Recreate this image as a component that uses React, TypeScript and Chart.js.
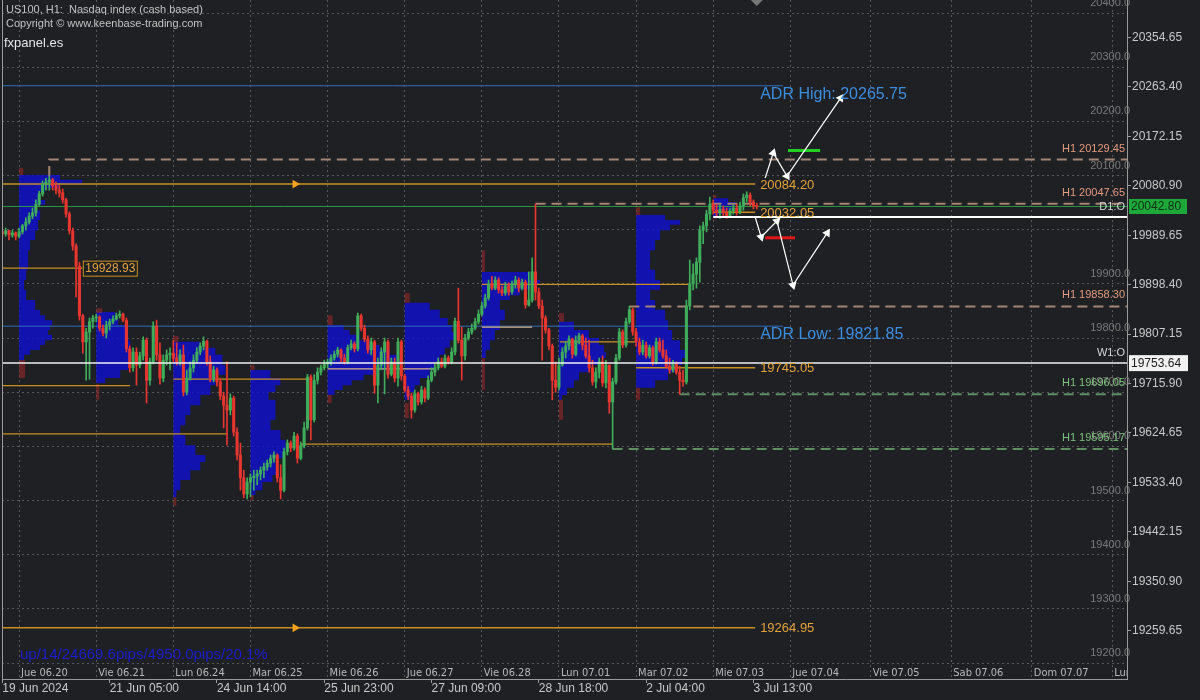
import React, { useEffect, useRef } from 'react';
import { Chart, registerables } from 'chart.js';

Chart.register(...registerables);

// ---------------- DATA ----------------
const FIRST_OPEN = 19996;
const BAR_CLOSE = [
  19992, 19998, 19990, 19994, 19988, 19996, 20007, 20014, 20025, 20031,
  20047, 20066, 20084, 20088, 20092, 20081, 20073, 20068, 20055, 20029,
  19998, 19970, 19933, 19841, 19793, 19811, 19830, 19837, 19839, 19818,
  19809, 19824, 19830, 19835, 19841, 19844, 19833, 19780, 19745, 19774,
  19750, 19767, 19796, 19722, 19756, 19822, 19769, 19726, 19759, 19769,
  19772, 19763, 19756, 19769, 19700, 19726, 19745, 19759, 19774, 19785,
  19794, 19756, 19726, 19741, 19719, 19693, 19676, 19667, 19689, 19626,
  19584, 19542, 19512, 19534, 19542, 19545, 19549, 19556, 19562, 19569,
  19578, 19584, 19542, 19519, 19590, 19606, 19597, 19619, 19578, 19601,
  19634, 19728, 19649, 19722, 19737, 19745, 19752, 19756, 19763, 19770,
  19778, 19763, 19756, 19782, 19789, 19780, 19841, 19818, 19798, 19778,
  19793, 19713, 19750, 19774, 19793, 19733, 19756, 19726, 19793, 19730,
  19704, 19693, 19667, 19697, 19682, 19704, 19689, 19722, 19737, 19745,
  19756, 19748, 19763, 19756, 19774, 19831, 19796, 19767, 19800, 19811,
  19818, 19830, 19844, 19859, 19874, 19900, 19892, 19907, 19889, 19883,
  19896, 19885, 19900, 19907, 19892, 19903, 19861, 19870, 19922, 19885,
  19859, 19837, 19815, 19785, 19722, 19709, 19750, 19774, 19785, 19798,
  19770, 19796, 19804, 19787, 19767, 19745, 19719, 19737, 19756, 19717,
  19750, 19682, 19719, 19763, 19811, 19787, 19830, 19852, 19811, 19793,
  19774, 19787, 19767, 19782, 19756, 19793, 19778, 19767, 19748, 19741,
  19752, 19737, 19722, 19719, 19859, 19900, 19918, 19940, 19999, 20007,
  20029, 20047, 20036, 20031, 20038, 20031, 20025, 20035, 20040, 20033,
  20044, 20059, 20064, 20051, 20044, 20042.8,
];
const BAR_HIGH = [
  20001, 20003, 19999, 19999, 19996, 20003, 20010, 20022, 20031, 20040,
  20055, 20071, 20090, 20095, 20099, 20095, 20088, 20082, 20075, 20058,
  20033, 20003, 19974, 19940, 19844, 19818, 19837, 19842, 19844, 19841,
  19824, 19831, 19835, 19841, 19846, 19850, 19846, 19837, 19785, 19782,
  19782, 19774, 19802, 19800, 19763, 19830, 19833, 19791, 19769, 19778,
  19782, 19796, 19791, 19778, 19787, 19741, 19756, 19769, 19782, 19791,
  19802, 19796, 19767, 19748, 19745, 19726, 19700, 19756, 19697, 19693,
  19634, 19606, 19556, 19542, 19549, 19556, 19556, 19562, 19569, 19575,
  19584, 19590, 19586, 19566, 19597, 19612, 19610, 19626, 19623, 19608,
  19645, 19733, 19732, 19732, 19745, 19750, 19759, 19761, 19769, 19776,
  19783, 19780, 19770, 19787, 19796, 19793, 19846, 19844, 19824, 19804,
  19800, 19796, 19763, 19782, 19800, 19796, 19763, 19763, 19800, 19796,
  19733, 19711, 19698, 19704, 19700, 19711, 19708, 19730, 19745, 19752,
  19763, 19763, 19769, 19767, 19782, 19837, 19892, 19820, 19807, 19818,
  19826, 19837, 19852, 19866, 19881, 19907, 19914, 19913, 19911, 19896,
  19903, 19902, 19905, 19914, 19911, 19909, 19907, 19922, 19948, 20047.65,
  19892, 19870, 19841, 19818, 19789, 19756, 19763, 19782, 19793, 19804,
  19800, 19804, 19809, 19807, 19800, 19796, 19759, 19745, 19763, 19767,
  19759, 19750, 19726, 19770, 19818, 19815, 19837, 19858.3, 19855, 19818,
  19800, 19796, 19793, 19787, 19785, 19800, 19800, 19796, 19778, 19763,
  19759, 19756, 19748, 19741, 19870, 19944, 19937, 19948, 20007, 20014,
  20036, 20060, 20055, 20047, 20046, 20044, 20040, 20040, 20046, 20047,
  20051, 20066, 20070, 20068, 20055, 20049,
];
const BAR_LOW = [
  19985, 19988, 19981, 19986, 19981, 19985, 19992, 19999, 20010, 20020,
  20025, 20044, 20062, 20073, 20073, 20073, 20066, 20060, 20049, 20023,
  19992, 19962, 19876, 19833, 19772, 19722, 19724, 19818, 19830, 19813,
  19804, 19800, 19815, 19826, 19833, 19837, 19830, 19774, 19737, 19739,
  19713, 19745, 19759, 19680, 19713, 19752, 19759, 19715, 19719, 19750,
  19741, 19756, 19750, 19750, 19693, 19695, 19722, 19737, 19754, 19769,
  19778, 19750, 19719, 19719, 19711, 19686, 19634, 19602, 19658, 19619,
  19575, 19519, 19505, 19503, 19507, 19519, 19529, 19538, 19542, 19556,
  19562, 19571, 19534, 19503, 19516, 19584, 19590, 19593, 19569, 19575,
  19597, 19630, 19612, 19645, 19715, 19732, 19741, 19745, 19750, 19759,
  19765, 19756, 19752, 19752, 19778, 19774, 19776, 19813, 19793, 19772,
  19769, 19698, 19680, 19741, 19697, 19726, 19730, 19719, 19711, 19722,
  19700, 19686, 19652, 19663, 19676, 19678, 19682, 19686, 19719, 19730,
  19741, 19745, 19745, 19752, 19752, 19769, 19791, 19722, 19759, 19796,
  19807, 19815, 19826, 19841, 19855, 19870, 19889, 19889, 19883, 19878,
  19879, 19879, 19881, 19892, 19885, 19889, 19855, 19859, 19866, 19870,
  19854, 19759, 19809, 19778, 19686, 19700, 19704, 19748, 19763, 19778,
  19763, 19767, 19789, 19778, 19763, 19737, 19713, 19708, 19726, 19711,
  19708, 19661, 19595.17, 19715, 19759, 19782, 19783, 19826, 19805, 19785,
  19769, 19769, 19763, 19763, 19750, 19752, 19774, 19763, 19745, 19735,
  19737, 19733, 19696.05, 19711, 19715, 19852, 19889, 19892, 19903, 19974,
  19996, 20018, 20029, 20025, 20021, 20025, 20021, 20023, 20029, 20027,
  20029, 20036, 20051, 20044, 20038, 20038,
];

const PRICE_TICKS = [20354.65, 20263.4, 20172.15, 20080.9, 19989.65, 19898.4, 19807.15, 19715.9, 19624.65, 19533.4, 19442.15, 19350.9, 19259.65];
const ROUND_LEVELS = [20400, 20300, 20200, 20100, 20000, 19900, 19800, 19700, 19600, 19500, 19400, 19300, 19200];
const HIDDEN_ROUND_LABELS = [20000];
const TIME_TICK_BARS = [0, 32, 64, 96, 128, 160, 192, 224];
const TIME_TICK_LABELS = ['19 Jun 2024', '21 Jun 05:00', '24 Jun 14:00', '25 Jun 23:00', '27 Jun 09:00', '28 Jun 18:00', '2 Jul 04:00', '3 Jul 13:00'];
const DAY_START_BARS = [5, 28, 51, 74, 97, 120, 143, 166, 189, 212, 235, 259, 283, 307, 331];
const DAY_LABELS = ['Jue 06.20', 'Vie 06.21', 'Lun 06.24', 'Mar 06.25', 'Mie 06.26', 'Jue 06.27', 'Vie 06.28', 'Lun 07.01', 'Mar 07.02', 'Mie 07.03', 'Jue 07.04', 'Vie 07.05', 'Sab 07.06', 'Dom 07.07', 'Lun 07.08'];

// volume profiles: [price, volume]
const PROFILE_START_BARS = [5, 28, 51, 74, 97, 120, 143, 166, 189, 212];
const PROFILE_JUN20 = [[20101, 11], [20092, 41], [20084, 63], [20077, 41], [20070, 26], [20055, 21], [20046, 26], [20036, 16], [20018, 21], [19999, 19], [19981, 16], [19962, 11], [19944, 9], [19926, 9], [19907, 7], [19889, 5], [19870, 7], [19852, 16], [19842, 21], [19833, 26], [19824, 33], [19815, 31], [19806, 29], [19796, 33], [19787, 26], [19778, 21], [19769, 11], [19759, 5]];
const PROFILE_JUN21 = [[19848, 4], [19837, 19], [19824, 22], [19815, 29], [19796, 32], [19778, 34], [19759, 34], [19741, 32], [19726, 24], [19717, 9]];
const PROFILE_JUN24 = [[19793, 7], [19782, 27], [19769, 42], [19750, 49], [19732, 52], [19713, 42], [19695, 37], [19676, 27], [19658, 17], [19639, 12], [19621, 7], [19602, 12], [19584, 22], [19571, 32], [19556, 27], [19538, 17], [19519, 7], [19506, 3]];
const PROFILE_JUN25 = [[19741, 12], [19726, 20], [19713, 30], [19700, 25], [19686, 18], [19667, 25], [19649, 25], [19630, 20], [19612, 30], [19602, 35], [19593, 38], [19578, 33], [19566, 25], [19547, 28], [19534, 22], [19519, 12], [19510, 5]];
const PROFILE_JUN26 = [[19824, 8], [19815, 16], [19806, 22], [19796, 32], [19787, 42], [19778, 52], [19769, 62], [19759, 70], [19750, 75], [19741, 64], [19732, 50], [19722, 36], [19713, 24], [19704, 15], [19695, 7]];
const PROFILE_JUN27 = [[19865, 15], [19852, 25], [19837, 35], [19824, 43], [19811, 47], [19796, 50], [19782, 45], [19769, 40], [19756, 35], [19741, 30], [19726, 25], [19713, 15], [19700, 10], [19686, 5]];
const PROFILE_JUN28 = [[19922, 18], [19907, 48], [19898, 58], [19889, 48], [19879, 38], [19870, 28], [19852, 18], [19833, 23], [19815, 18], [19796, 13], [19778, 8], [19763, 4]];
const PROFILE_JUL01 = [[19830, 5], [19815, 15], [19800, 30], [19787, 40], [19774, 45], [19763, 47], [19750, 40], [19737, 30], [19722, 20], [19708, 15], [19695, 8], [19686, 3]];
const PROFILE_JUL02 = [[20027, 14], [20018, 29], [20009, 44], [19999, 34], [19981, 24], [19962, 19], [19944, 14], [19926, 14], [19907, 19], [19889, 24], [19870, 14], [19852, 19], [19833, 29], [19815, 32], [19796, 36], [19778, 44], [19763, 49], [19750, 46], [19737, 39], [19722, 32], [19708, 19]];
const PROFILE_JUL03 = [[20058, 7], [20051, 15], [20044, 22], [20036, 20], [20029, 12], [20021, 5]];
const PROFILES = [PROFILE_JUN20, PROFILE_JUN21, PROFILE_JUN24, PROFILE_JUN25, PROFILE_JUN26, PROFILE_JUN27, PROFILE_JUN28, PROFILE_JUL01, PROFILE_JUL02, PROFILE_JUL03];
// low-volume tails outside the value area: [upper price, lower price, volume]
const PROFILE_TOP_TAILS = [[20114, 20101, 4], [19855, 19846, 6], [19804, 19793, 5], [19750, 19741, 4], [19842, 19824, 5], [19883, 19865, 5], [19962, 19922, 3], [19846, 19830, 5], [20042, 20027, 4], [20064, 20058, 3]];
const PROFILE_BOTTOM_TAILS = [[19759, 19726, 6], [19715, 19686, 3], [19506, 19490, 3], [19510, 19501, 3], [19695, 19680, 4], [19680, 19652, 4], [19763, 19704, 3], [19686, 19649, 4], [19708, 19686, 4], [20021, 20018, 2]];

const ADR_HIGH = 20265.75;
const ADR_LOW = 19821.85;
const ADR_END_BAR = 232.8;
const H1_LEVELS = [20129.45, 20047.65, 19858.3, 19696.05, 19595.17];
const H1_START_BARS = [14, 159, 187, 202, 182];
const H1_IS_HIGH = [true, true, true, false, false];
const PIVOT_LEVELS = [20084.2, 20032.05, 19745.05, 19264.95];
const PIVOT_START_BARS = [-0.1, 212, 189, -0.1];
const PIVOT_END_BAR = 224.5;
const PIVOT_ARROW_BAR = 87.3;
const PIVOT_ARROW_LEVELS = [20084.2, 19264.95];
const POC_LEVELS = [19928.93, 19712, 19724, 19623, 19604, 19899, 19793, 19820, 19743];
const POC_FROM_BARS = [-0.1, -0.1, 51, -0.1, 88.8, 143, 166.3, 143, 97];
const POC_TO_BARS = [24, 38.1, 91.5, 67.3, 182, 204.5, 188.7, 158, 129];
const BID = 20042.8;
const D1_OPEN = 20023.4;
const D1_START_BAR = 212;
const W1_OPEN = 19753.64;
const TARGET_LEVEL = 20146;
const TARGET_BARS = [234.3, 243.9];
const STOP_LEVEL = 19985;
const STOP_BARS = [227.5, 236.4];
const PATH_UP_X = [227.5, 229.9, 234.0, 250.0];
const PATH_UP_Y = [20095.4, 20141.5, 20099, 20243];
const PATH_UP_ROT = [0, 18, 149, 34];
const PATH_DN_X = [224.5, 226.3, 231.0, 235.8, 246.0];
const PATH_DN_Y = [20023.4, 19986.5, 20016, 19897.8, 19994];
const PATH_DN_ROT = [0, 163, 45, 166, 33];

// ---------------- STYLE ----------------
const X_MIN = -0.1;
const X_MAX = 335.4;
const Y_MIN = 19170.5;
const Y_MAX = 20424;
const VOL_TO_BARS = 1 / 3.353;
const BG = '#1f2024';
const GRID = '#56585d';
const AXIS = '#9a9a9a';
const UP = '#3fae5a';
const DOWN = '#e8362e';
const ORANGE = '#c8901e';
const ORANGE_TXT = '#e3a23a';
const FONT = "'Liberation Sans', Arial, sans-serif";
const NARROW = "'Liberation Sans Narrow', 'DejaVu Sans Condensed', 'Liberation Sans', sans-serif";

function seg(points: any[], color: string, width: number, dash: number[], order: number) {
  return {
    type: 'line', data: points, borderColor: color, borderWidth: width, borderDash: dash,
    pointRadius: 0, fill: false, tension: 0, order,
  };
}

function buildDatasets() {
  const ds: any[] = [];
  const opens = BAR_CLOSE.map((c, i) => (i === 0 ? FIRST_OPEN : BAR_CLOSE[i - 1]));
  const colors = BAR_CLOSE.map((c, i) => (c >= opens[i] ? UP : DOWN));

  // volume profiles
  PROFILES.forEach((rows, k) => {
    const s = PROFILE_START_BARS[k];
    const pts = [{ x: s, y: rows[0][0] }];
    rows.forEach(([p, v]) => pts.push({ x: s + v * VOL_TO_BARS, y: p }));
    pts.push({ x: s, y: rows[rows.length - 1][0] });
    ds.push({
      type: 'line', data: pts, borderWidth: 0, borderColor: 'rgba(0,0,0,0)',
      backgroundColor: 'rgba(16,16,206,0.82)', fill: 'shape', pointRadius: 0,
      stepped: 'before', order: 40,
    });
  });
  [PROFILE_TOP_TAILS, PROFILE_BOTTOM_TAILS].forEach((tails) => {
    tails.forEach(([hi, lo, v], k) => {
      const s = PROFILE_START_BARS[k];
      const e = s + v * VOL_TO_BARS;
      ds.push({
        type: 'line', data: [{ x: s, y: hi }, { x: e, y: hi }, { x: e, y: lo }, { x: s, y: lo }],
        borderWidth: 0, borderColor: 'rgba(0,0,0,0)', backgroundColor: 'rgba(150,40,40,0.6)',
        fill: 'shape', pointRadius: 0, stepped: 'before', order: 39,
      });
    });
  });

  // level lines
  ds.push(seg([{ x: X_MIN, y: ADR_HIGH }, { x: ADR_END_BAR, y: ADR_HIGH }], '#2f6db8', 1, [], 20));
  ds.push(seg([{ x: X_MIN, y: ADR_LOW }, { x: ADR_END_BAR, y: ADR_LOW }], '#2f6db8', 1, [], 20));
  ds.push(seg([{ x: X_MIN, y: BID }, { x: X_MAX, y: BID }], '#2a9a40', 1, [], 20));
  H1_LEVELS.forEach((lv, k) => {
    const s = H1_START_BARS[k];
    const anchor = H1_IS_HIGH[k] ? BAR_HIGH[s] : BAR_LOW[s];
    const col = H1_IS_HIGH[k] ? '#a68474' : '#5f8f5f';
    ds.push(seg([{ x: s, y: anchor }, { x: s, y: lv }, { x: X_MAX, y: lv }], col, 2, [10, 6], 19));
  });
  POC_LEVELS.forEach((lv, k) => {
    const col = k >= 7 ? '#d8b08a' : ORANGE;
    ds.push(seg([{ x: POC_FROM_BARS[k], y: lv }, { x: POC_TO_BARS[k], y: lv }], col, 1.3, [], 18));
  });
  PIVOT_LEVELS.forEach((lv, k) => {
    ds.push(seg([{ x: PIVOT_START_BARS[k], y: lv }, { x: PIVOT_END_BAR, y: lv }], ORANGE, 1.5, [], 18));
  });
  ds.push({
    type: 'line', showLine: false, data: PIVOT_ARROW_LEVELS.map((lv) => ({ x: PIVOT_ARROW_BAR, y: lv })),
    pointStyle: 'triangle', pointRotation: 90, pointRadius: 5, pointBackgroundColor: '#f0a21e',
    pointBorderWidth: 0, order: 17,
  });

  // candles
  ds.push({
    type: 'bar', data: BAR_CLOSE.map((c, i) => ({ x: i, y: [BAR_LOW[i], BAR_HIGH[i]] })),
    backgroundColor: colors, borderWidth: 0, barThickness: 1, grouped: false, order: 11,
  });
  ds.push({
    type: 'bar', data: BAR_CLOSE.map((c, i) => ({ x: i, y: [opens[i], c] })),
    backgroundColor: colors, borderWidth: 0, barThickness: 2.4, grouped: false, minBarLength: 1, order: 10,
  });

  // white opens
  ds.push(seg([{ x: X_MIN, y: W1_OPEN }, { x: X_MAX, y: W1_OPEN }], '#f0f0f0', 1.5, [], 5));
  ds.push(seg([{ x: D1_START_BAR, y: D1_OPEN }, { x: X_MAX, y: D1_OPEN }], '#ffffff', 2, [], 5));

  // target / stop marks
  ds.push(seg([{ x: TARGET_BARS[0], y: TARGET_LEVEL }, { x: TARGET_BARS[1], y: TARGET_LEVEL }], '#22d022', 3, [], 4));
  ds.push(seg([{ x: STOP_BARS[0], y: STOP_LEVEL }, { x: STOP_BARS[1], y: STOP_LEVEL }], '#e01818', 3, [], 4));

  // arrow paths
  const path = (xs: number[], ys: number[], rots: number[]) => ({
    type: 'line', data: xs.map((x, i) => ({ x, y: ys[i] })), borderColor: '#ffffff', borderWidth: 1.2,
    pointStyle: 'triangle', pointRadius: xs.map((x, i) => (i === 0 ? 0 : 5)), pointRotation: rots,
    pointBackgroundColor: '#ffffff', pointBorderColor: '#ffffff', pointBorderWidth: 0, tension: 0, order: 1,
  });
  ds.push(path(PATH_UP_X, PATH_UP_Y, PATH_UP_ROT));
  ds.push(path(PATH_DN_X, PATH_DN_Y, PATH_DN_ROT));
  return ds;
}

const overlayPlugin = {
  id: 'overlay',
  beforeDraw(chart: any) {
    const { ctx, width, height } = chart;
    ctx.save();
    ctx.fillStyle = BG;
    ctx.fillRect(0, 0, width, height);
    ctx.restore();
  },
  afterDatasetsDraw(chart: any) {
    const { ctx, chartArea: a, scales } = chart;
    const x = scales.x;
    const y = scales.y;
    ctx.save();
    ctx.textBaseline = 'middle';

    // day labels inside plot
    ctx.save();
    ctx.beginPath();
    ctx.rect(a.left, a.top, a.right - a.left, a.bottom - a.top);
    ctx.clip();
    ctx.font = `11px ${NARROW}`;
    ctx.fillStyle = '#b8b8b8';
    ctx.textAlign = 'left';
    DAY_START_BARS.forEach((b, k) => ctx.fillText(DAY_LABELS[k], x.getPixelForValue(b) + 2, a.bottom - 6));
    ctx.restore();

    // title
    ctx.textAlign = 'left';
    ctx.font = `11px ${FONT}`;
    ctx.fillStyle = '#c2c2c2';
    ctx.fillText('US100, H1:  Nasdaq index (cash based)', 6, 10);
    ctx.fillText('Copyright \u00A9 www.keenbase-trading.com', 6, 24);
    ctx.font = `13px ${FONT}`;
    ctx.fillStyle = '#e6e6e6';
    ctx.fillText('fxpanel.es', 4, 43);

    // ADR texts
    ctx.font = `16px ${FONT}`;
    ctx.fillStyle = '#3b8de0';
    const adrX = x.getPixelForValue(226);
    ctx.fillText(`ADR High: ${ADR_HIGH.toFixed(2)}`, adrX, y.getPixelForValue(ADR_HIGH) + 9);
    ctx.fillText(`ADR Low: ${ADR_LOW.toFixed(2)}`, adrX, y.getPixelForValue(ADR_LOW) + 8);

    // pivot labels
    ctx.font = `13px ${FONT}`;
    ctx.fillStyle = ORANGE_TXT;
    PIVOT_LEVELS.forEach((lv) => ctx.fillText(lv.toFixed(2), x.getPixelForValue(PIVOT_END_BAR) + 5, y.getPixelForValue(lv) + 1));

    // boxed POC label
    const bx = x.getPixelForValue(POC_TO_BARS[0]);
    const by = y.getPixelForValue(POC_LEVELS[0]);
    ctx.fillStyle = BG;
    ctx.fillRect(bx, by - 7.5, 54, 15);
    ctx.strokeStyle = ORANGE;
    ctx.lineWidth = 1;
    ctx.strokeRect(bx + 0.5, by - 7, 54, 15);
    ctx.font = `12px ${FONT}`;
    ctx.fillStyle = ORANGE_TXT;
    ctx.textAlign = 'center';
    ctx.fillText(POC_LEVELS[0].toFixed(2), bx + 27.5, by + 1);

    // right-side labels
    ctx.textAlign = 'right';
    ctx.font = `11px ${FONT}`;
    H1_LEVELS.forEach((lv, k) => {
      ctx.fillStyle = H1_IS_HIGH[k] ? '#e39c7e' : '#7cc47c';
      ctx.fillText(`H1 ${lv.toFixed(2)}`, a.right - 2, y.getPixelForValue(lv) - 11);
    });
    ctx.fillStyle = '#d6d6d6';
    ctx.fillText('D1:O', a.right - 2, y.getPixelForValue(D1_OPEN) - 10);
    ctx.fillText('W1:O', a.right - 2, y.getPixelForValue(W1_OPEN) - 10);

    // bottom-left status text
    ctx.textAlign = 'left';
    ctx.font = `15px ${FONT}`;
    ctx.fillStyle = '#1c1cd0';
    ctx.fillText('up/14/24669.6pips/4950.0pips/20.1%', 20, 655);
    ctx.restore();
  },
  afterDraw(chart: any) {
    const { ctx, chartArea: a, scales } = chart;
    const y = scales.y;
    const x = scales.x;
    ctx.save();
    // left frame
    ctx.strokeStyle = AXIS;
    ctx.lineWidth = 1;
    ctx.beginPath();
    ctx.moveTo(a.left + 0.5, a.top);
    ctx.lineTo(a.left + 0.5, a.bottom);
    ctx.stroke();
    // shift marker
    const sx = x.getPixelForValue(BAR_CLOSE.length - 1);
    ctx.fillStyle = '#777777';
    ctx.beginPath();
    ctx.moveTo(sx - 6, 0);
    ctx.lineTo(sx + 6, 0);
    ctx.lineTo(sx, 6);
    ctx.closePath();
    ctx.fill();
    // price boxes
    ctx.textBaseline = 'middle';
    ctx.textAlign = 'left';
    ctx.font = `12px ${FONT}`;
    const gy = y.getPixelForValue(BID);
    ctx.fillStyle = '#1fa83a';
    ctx.fillRect(a.right + 2, gy - 7.5, 58, 15);
    ctx.fillStyle = '#0d2e13';
    ctx.fillText(BID.toFixed(2), a.right + 4, gy + 0.5);
    const wy = y.getPixelForValue(W1_OPEN);
    ctx.fillStyle = '#f2f2f2';
    ctx.fillRect(a.right + 2, wy - 8, 59, 16);
    ctx.fillStyle = '#1a1a1a';
    ctx.fillText(W1_OPEN.toFixed(2), a.right + 4, wy + 0.5);
    ctx.restore();
  },
};

function fitTo(size: { width?: number; height?: number }) {
  return (s: any) => {
    if (size.width !== undefined) s.width = size.width;
    if (size.height !== undefined) s.height = size.height;
    s.paddingTop = 0;
    s.paddingBottom = 0;
    s.paddingLeft = 0;
    s.paddingRight = 0;
  };
}

export default function App() {
  const ref = useRef<HTMLCanvasElement | null>(null);
  useEffect(() => {
    if (!ref.current) return;
    const chart = new Chart(ref.current, {
      type: 'bar',
      data: { datasets: buildDatasets() } as any,
      options: {
        responsive: false,
        maintainAspectRatio: false,
        devicePixelRatio: 1,
        animation: false,
        events: [],
        layout: { autoPadding: false, padding: { left: 2, right: 0, top: 0, bottom: 0 } },
        plugins: { legend: { display: false }, tooltip: { enabled: false } },
        scales: {
          x: {
            type: 'linear', min: X_MIN, max: X_MAX, position: 'bottom', weight: 1, offset: false,
            afterBuildTicks: (s: any) => { s.ticks = TIME_TICK_BARS.map((v) => ({ value: v })); },
            afterFit: fitTo({ height: 21 }),
            ticks: {
              autoSkip: false, maxRotation: 0, minRotation: 0, align: 'start', padding: -2,
              color: '#c8c8c8', font: { size: 12, family: FONT },
              callback: (v: any, i: number) => TIME_TICK_LABELS[i],
            },
            grid: { drawOnChartArea: false, drawTicks: true, tickLength: 4, color: AXIS, offset: false },
            border: { display: true, color: AXIS, width: 1 },
          },
          x2: {
            type: 'linear', min: X_MIN, max: X_MAX, position: 'bottom', weight: 0, offset: false,
            afterBuildTicks: (s: any) => { s.ticks = DAY_START_BARS.map((v) => ({ value: v })); },
            afterFit: fitTo({ height: 0 }),
            ticks: { display: false },
            grid: { drawOnChartArea: true, drawTicks: false, color: GRID, lineWidth: 1, offset: false },
            border: { display: false, dash: [2, 3] },
          },
          y: {
            type: 'linear', position: 'right', min: Y_MIN, max: Y_MAX, weight: 1,
            afterBuildTicks: (s: any) => { s.ticks = PRICE_TICKS.map((v) => ({ value: v })); },
            afterFit: fitTo({ width: 73 }),
            ticks: {
              autoSkip: false, padding: 1, color: '#c8c8c8', font: { size: 12, family: FONT },
              callback: (v: any) => Number(v).toFixed(2),
            },
            grid: { drawOnChartArea: false, drawTicks: true, tickLength: 4, color: AXIS },
            border: { display: true, color: AXIS, width: 1 },
          },
          y2: {
            type: 'linear', position: 'right', min: Y_MIN, max: Y_MAX, weight: 0,
            afterBuildTicks: (s: any) => { s.ticks = ROUND_LEVELS.map((v) => ({ value: v })); },
            afterFit: fitTo({ width: 0 }),
            ticks: {
              autoSkip: false, mirror: true, padding: 3, labelOffset: -10, color: '#7a7a7a',
              font: { size: 11, family: FONT },
              callback: (v: any) => (HIDDEN_ROUND_LABELS.includes(Number(v)) ? '' : Number(v).toFixed(1)),
            },
            grid: { drawOnChartArea: true, drawTicks: false, color: GRID, lineWidth: 1 },
            border: { display: false, dash: [2, 3] },
          },
        },
      } as any,
      plugins: [overlayPlugin],
    });
    return () => chart.destroy();
  }, []);

  return (
    <div style={{ position: 'fixed', left: 0, top: 0, width: 1200, height: 700, background: BG }}>
      <canvas ref={ref} width={1200} height={700} style={{ display: 'block', width: 1200, height: 700 }} />
    </div>
  );
}
